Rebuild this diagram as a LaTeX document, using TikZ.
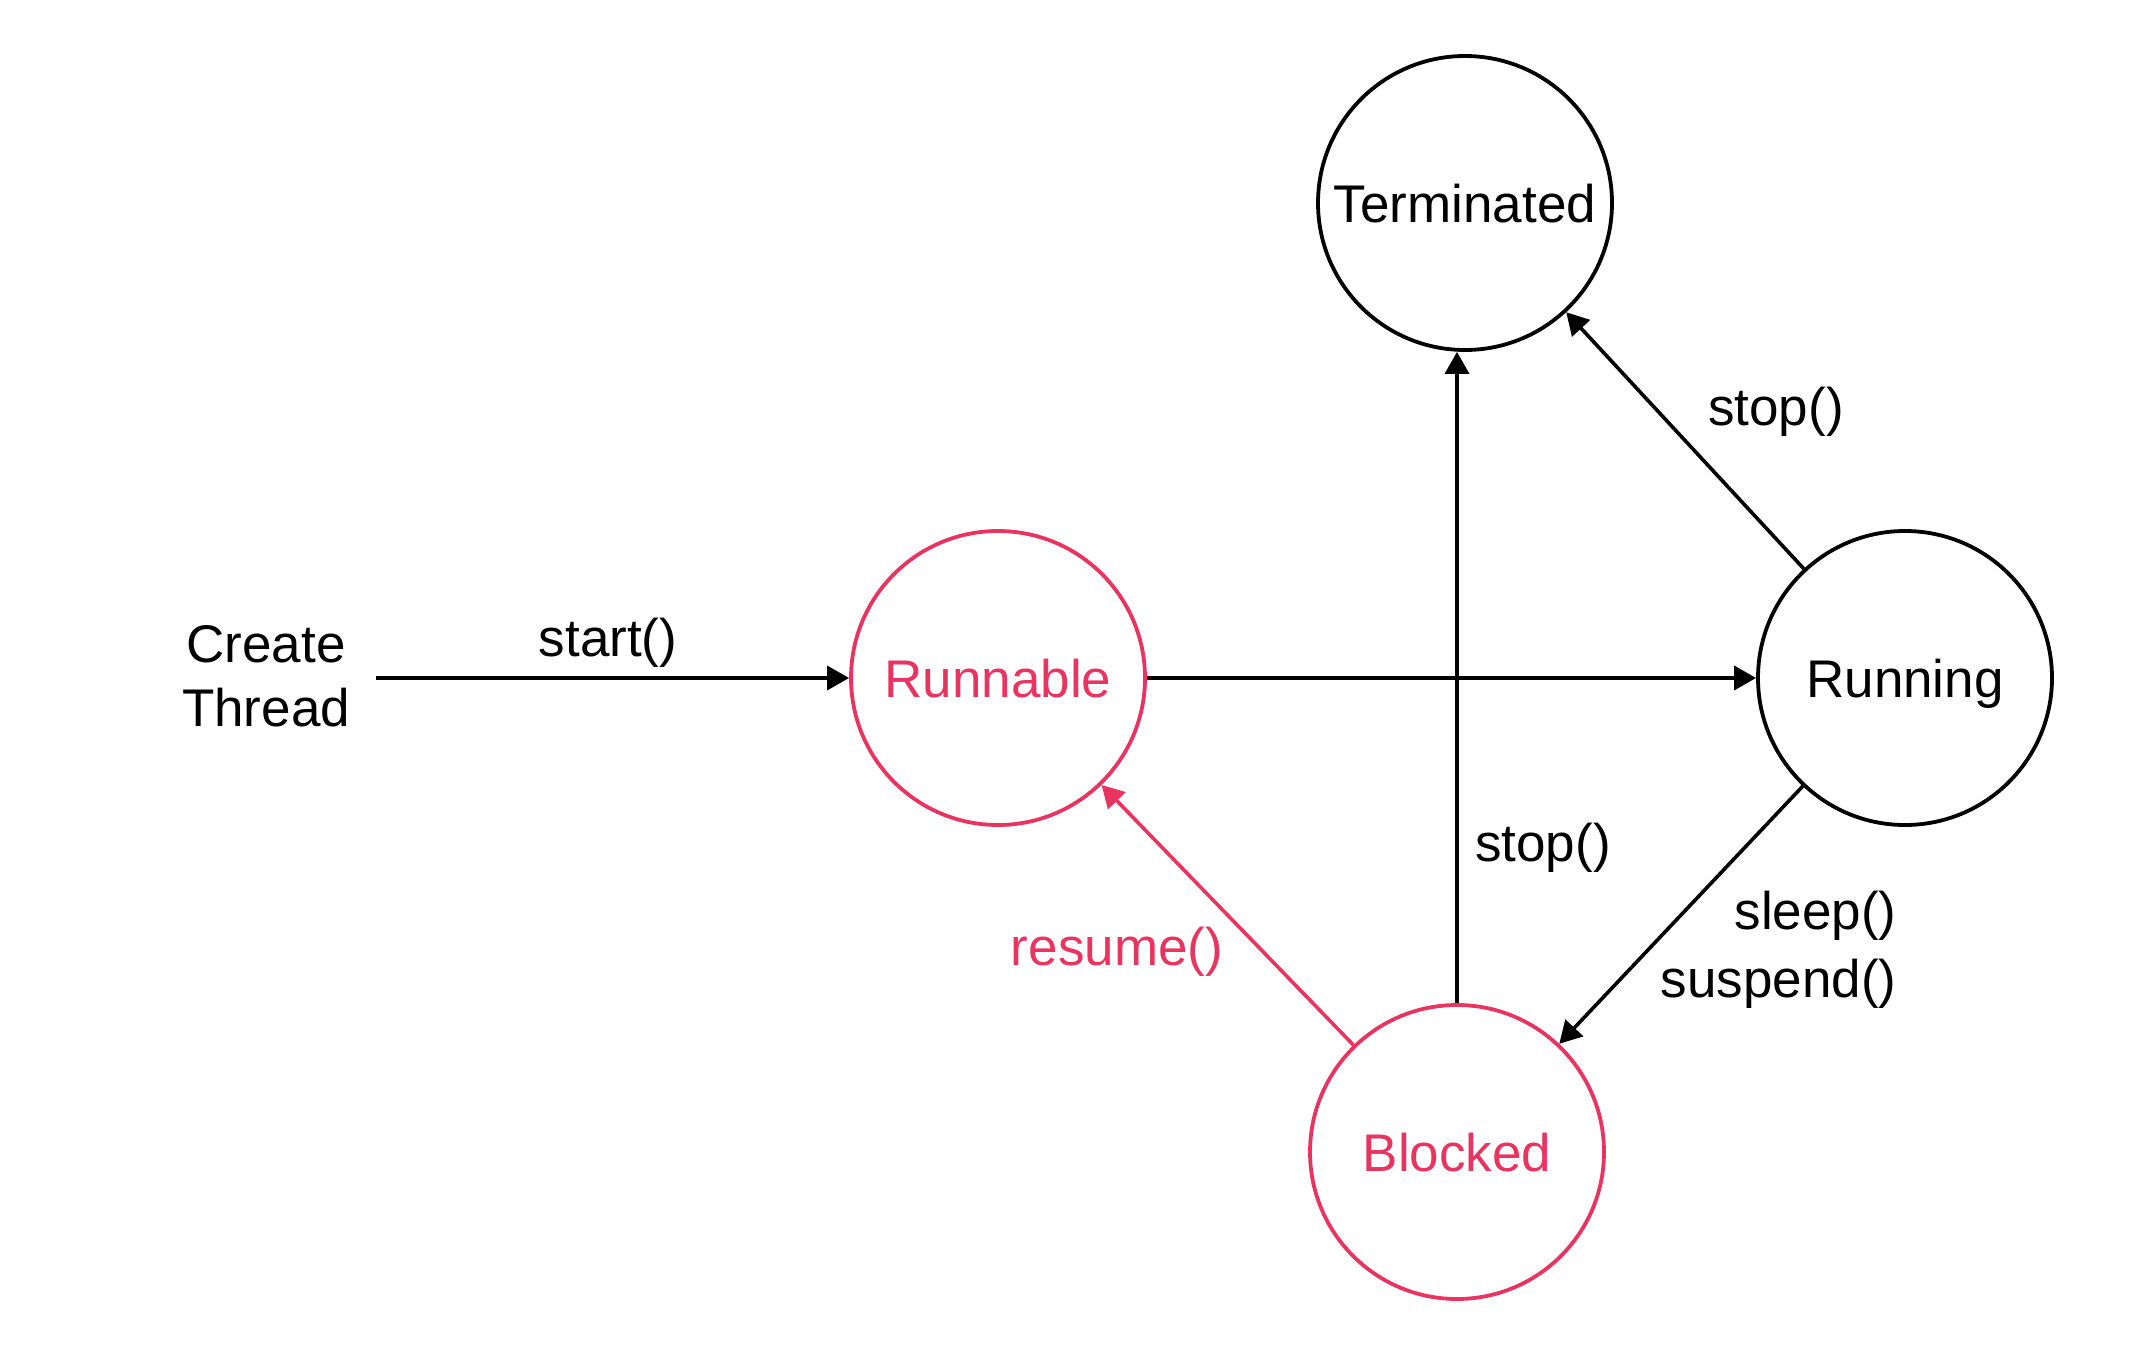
\documentclass[tikz,border=0pt]{standalone}
\usepackage{fontspec}
\setmainfont{Liberation Sans}
\usetikzlibrary{arrows.meta}
\definecolor{pinkc}{HTML}{E9345F}
\begin{document}
\begin{tikzpicture}[x=0.5pt,y=-0.5pt,
  state/.style={circle,draw,line width=1.9pt,minimum size=147pt,inner sep=0pt,text height=19pt,text depth=0pt},
  lbl/.style={inner sep=0pt},
  conn/.style={line width=1.8pt,-{Triangle[length=11pt,width=12pt]}},
  every node/.style={font=\fontsize{26.5}{32}\selectfont}]
\useasboundingbox (0,0) rectangle (2148,1354);
\node[state] (term) at (1465,203) {Terminated};
\node[state,draw=pinkc,text=pinkc] (runnable) at (998,678) {Runnable};
\node[state] (running) at (1905,678) {Running};
\node[state,draw=pinkc,text=pinkc] (blocked) at (1457,1152) {Blocked};
\node[lbl,align=center] (create) at (266,676) {Create\\Thread};
\coordinate (startpt) at (376,678);
\draw[conn] (startpt) -- (runnable);
\draw[conn] (runnable) -- (running);
\draw[conn] (blocked.north) -- (blocked.north |- term.south);
\draw[conn] (running) -- (term);
\draw[conn] (running) -- (blocked);
\draw[conn,draw=pinkc,fill=pinkc] (blocked) -- (runnable);
\node[lbl,anchor=base] (lstart) at (608,656) {start()};
\node[lbl,anchor=base] (lstop1) at (1776,425) {stop()};
\node[lbl,anchor=base] (lstop2) at (1543,861) {stop()};
\node[lbl,anchor=base,text=pinkc] (lresume) at (1117,965) {resume()};
\node[lbl,anchor=east,align=right,font=\fontsize{26.5}{34}\selectfont] (lsleep) at (1897,950) {sleep()\\suspend()};
\end{tikzpicture}
\end{document}
